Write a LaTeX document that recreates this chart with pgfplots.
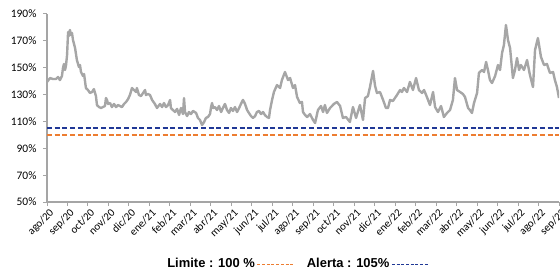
\documentclass[border=0pt]{standalone}
\usepackage{fontspec}
\setmainfont{Carlito}
\newfontfamily\legfont{Liberation Sans}
\usepackage{pgfplots}
\pgfplotsset{compat=1.18}
\definecolor{serie}{RGB}{166,166,166}
\definecolor{lim}{RGB}{237,125,49}
\definecolor{alert}{RGB}{32,56,150}
\definecolor{axgray}{RGB}{165,165,165}
\begin{document}
\begin{tikzpicture}
\begin{axis}[
  at={(47bp,69bp)}, anchor=south west,
  scale only axis, width=512bp, height=188bp,
  xmin=0, xmax=25, ymin=50, ymax=190,
  axis x line*=bottom, axis y line*=left,
  axis line style={axgray, line width=1.2bp},
  xtick={0,...,25},
  xticklabels={ago/20,sep/20,oct/20,nov/20,dic/20,ene/21,feb/21,mar/21,abr/21,may/21,jun/21,jul/21,ago/21,sep/21,oct/21,nov/21,dic/21,ene/22,feb/22,mar/22,abr/22,may/22,jun/22,jul/22,ago/22,sep/22},
  ytick={50,70,90,110,130,150,170,190},
  yticklabels={50\%,70\%,90\%,110\%,130\%,150\%,170\%,190\%},
  tick align=outside, major tick length=4bp,
  tick style={axgray, line width=1bp},
  xticklabel style={rotate=45, anchor=north east, font=\fontsize{11}{13}\selectfont, inner sep=1bp, yshift=-1.5bp, xshift=1bp},
  yticklabel style={font=\fontsize{11.5}{13}\selectfont, xshift=-3bp},
  legend plot pos=right,
  legend style={at={(0.489,-0.33)}, anchor=center, draw=none, fill=none,
    legend columns=2, font=\legfont\bfseries\fontsize{13}{15}\selectfont,
    /tikz/every even column/.append style={column sep=10bp},
    inner sep=0pt},
  legend image code/.code={\draw[#1, line width=1bp, dash pattern=on 3bp off 1.7bp] (0bp,0bp) -- (37bp,0bp);},
]
\addplot[serie, line width=2.4bp, line join=round, forget plot] coordinates {
(0.00,139.4)(0.15,142.3)(0.29,141.6)(0.44,141.6)(0.54,143.1)(0.63,140.8)(0.73,143.8)(0.78,149.8)
(0.83,152.8)(0.88,148.3)(0.93,152.0)(0.98,159.5)(1.03,176.6)(1.07,173.6)(1.12,178.1)(1.17,174.4)
(1.22,175.9)(1.27,170.6)(1.37,164.7)(1.46,155.7)(1.56,150.5)(1.61,152.0)(1.66,146.8)(1.76,143.8)
(1.81,145.3)(1.90,134.9)(2.00,133.4)(2.10,131.2)(2.20,131.9)(2.29,134.1)(2.39,128.9)(2.44,122.2)
(2.54,120.7)(2.64,120.0)(2.73,120.7)(2.83,121.5)(2.88,127.4)(2.93,126.0)(2.98,123.0)(3.08,123.7)
(3.17,120.7)(3.27,123.0)(3.37,120.7)(3.47,122.2)(3.56,121.5)(3.66,120.7)(3.76,123.0)(3.86,124.5)
(3.96,126.7)(4.05,129.7)(4.15,134.9)(4.25,133.4)(4.35,131.9)(4.39,134.9)(4.49,129.7)(4.59,128.9)
(4.69,131.2)(4.79,133.4)(4.83,129.7)(4.93,130.4)(5.03,129.7)(5.13,126.0)(5.27,123.0)(5.37,120.0)
(5.52,123.0)(5.62,120.7)(5.71,123.7)(5.81,120.7)(5.91,122.2)(6.01,126.0)(6.05,120.0)(6.15,118.5)
(6.25,117.0)(6.35,119.3)(6.45,114.8)(6.54,120.0)(6.64,115.5)(6.69,127.4)(6.74,117.0)(6.84,114.0)
(6.93,117.0)(7.03,115.5)(7.13,117.8)(7.28,116.3)(7.37,112.6)(7.47,111.1)(7.57,107.3)(7.67,109.6)
(7.76,112.6)(7.86,113.3)(7.96,115.5)(8.01,120.7)(8.06,123.7)(8.11,120.0)(8.20,120.7)(8.30,118.5)
(8.40,121.5)(8.50,117.0)(8.59,120.0)(8.69,123.0)(8.79,118.5)(8.89,116.3)(8.98,120.0)(9.08,117.8)
(9.18,120.7)(9.28,117.0)(9.38,120.0)(9.47,123.0)(9.57,126.0)(9.67,123.0)(9.77,118.5)(9.86,116.3)
(9.96,114.0)(10.06,112.6)(10.16,114.0)(10.25,117.0)(10.35,117.8)(10.45,115.5)(10.55,117.0)(10.64,114.8)
(10.74,113.3)(10.84,112.6)(10.89,118.5)(10.99,126.0)(11.08,131.9)(11.23,137.1)(11.38,134.9)(11.47,140.8)
(11.62,146.8)(11.77,140.8)(11.87,142.3)(12.01,134.9)(12.11,137.1)(12.21,128.2)(12.35,123.7)(12.45,124.5)
(12.50,117.0)(12.60,114.8)(12.70,113.3)(12.84,115.5)(12.99,111.1)(13.09,108.8)(13.23,118.5)(13.38,121.5)
(13.48,117.0)(13.57,122.2)(13.67,116.3)(13.82,120.0)(14.01,123.0)(14.16,124.5)(14.31,121.5)(14.45,112.6)
(14.60,113.3)(14.79,109.6)(14.94,120.7)(15.09,112.6)(15.28,122.2)(15.43,111.1)(15.53,127.4)(15.67,128.9)
(15.77,135.6)(15.92,147.6)(16.02,136.4)(16.11,131.2)(16.26,131.9)(16.41,126.0)(16.55,120.0)(16.65,120.0)
(16.75,126.0)(16.89,125.2)(17.09,129.7)(17.24,133.4)(17.33,131.9)(17.43,134.9)(17.58,131.9)(17.72,139.4)
(17.87,133.4)(18.02,142.3)(18.16,133.4)(18.31,131.2)(18.41,133.4)(18.55,128.2)(18.70,122.2)(18.85,131.9)
(18.95,120.7)(19.09,117.0)(19.24,121.5)(19.38,113.3)(19.53,116.3)(19.68,118.5)(19.82,126.0)(19.92,142.3)
(20.02,133.4)(20.17,131.9)(20.31,130.4)(20.41,128.2)(20.56,120.0)(20.65,118.5)(20.75,116.3)(20.85,123.7)
(21.00,131.2)(21.09,146.1)(21.24,148.3)(21.34,146.8)(21.44,154.3)(21.53,148.3)(21.63,140.8)(21.73,138.6)
(21.88,143.8)(22.02,152.0)(22.12,148.3)(22.22,161.0)(22.31,166.9)(22.41,181.8)(22.51,170.6)(22.61,164.7)
(22.75,142.3)(22.85,148.3)(22.95,157.2)(23.05,148.3)(23.14,152.0)(23.29,148.3)(23.44,155.7)(23.58,144.6)
(23.73,135.6)(23.83,163.2)(23.97,172.1)(24.12,158.0)(24.27,152.0)(24.41,152.8)(24.56,146.1)(24.71,146.8)
(24.80,140.8)(24.90,135.6)(25.00,127.4)
};
\addplot[lim, line width=1.5bp, dash pattern=on 5bp off 2.7bp] coordinates {(0,100) (25,100)};
\addlegendentry{Limite : 100 \%}
\addplot[alert, line width=1.5bp, dash pattern=on 5bp off 2.7bp] coordinates {(0,105) (25,105)};
\addlegendentry{Alerta : 105\%}
\end{axis}
\pgfresetboundingbox
\useasboundingbox (0,0) rectangle (560bp,271bp);
\end{tikzpicture}
\end{document}
